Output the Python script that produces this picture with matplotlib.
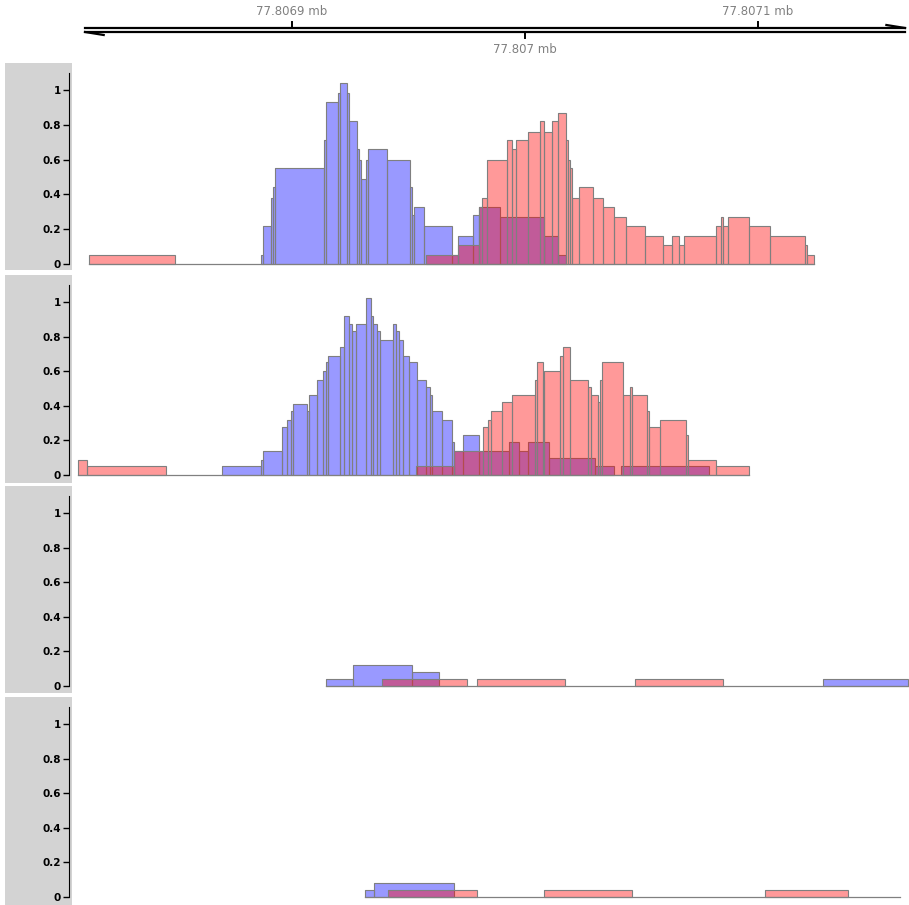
import matplotlib.pyplot as plt
import matplotlib.patches as mpatches

# positions are bp offsets from 77806800
ref_bp = 77806800
xlim = (5.6, 364.8)

# panel 1
p1_blue_edges = [86.6, 87.7, 90.9, 91.7, 92.7, 113.7, 114.6, 119.6, 120.6, 123.5, 124.6, 127.8, 128.6,
                 129.7, 131.6, 132.5, 140.6, 150.6, 151.6, 152.5, 156.7, 168.5, 171.4, 177.6, 180.4,
                 189.3, 208.2, 214.2, 217.6]
p1_blue_vals = [0.05, 0.22, 0.38, 0.44, 0.55, 0.71, 0.93, 0.98, 1.04, 0.98, 0.82, 0.66, 0.6, 0.49, 0.6,
                0.66, 0.6, 0.44, 0.28, 0.33, 0.22, 0.05, 0.16, 0.28, 0.33, 0.27, 0.16, 0.05]
p1_red_edges = [12.9, 49.8, 157.5, 171.4, 180.4, 181.4, 183.6, 192.4, 194.3, 196.3, 201.4, 206.3, 208.3,
                211.5, 214.3, 217.5, 218.3, 219.3, 220.2, 223.3, 229.3, 233.3, 238.3, 243.4, 251.4,
                259.4, 263.2, 266.2, 268.1, 282.1, 284.1, 285.1, 287.3, 296.1, 305.2, 320.2, 321.2, 324.1]
p1_red_vals = [0.05, 0, 0.05, 0.11, 0.33, 0.38, 0.6, 0.71, 0.66, 0.71, 0.76, 0.82, 0.76, 0.82, 0.87,
               0.71, 0.6, 0.55, 0.38, 0.44, 0.38, 0.33, 0.27, 0.22, 0.16, 0.11, 0.16, 0.11, 0.16, 0.22,
               0.27, 0.22, 0.27, 0.22, 0.16, 0.11, 0.05]

# panel 2
p2_blue_edges = [69.8, 86.6, 87.7, 95.6, 97.7, 99.4, 100.6, 106.6, 107.4, 110.6, 113.4, 114.6, 115.6,
                 120.6, 122.4, 124.6, 125.6, 127.5, 131.6, 133.8, 134.6, 136.6, 137.8, 143.5, 144.5,
                 145.9, 147.8, 150.3, 153.5, 157.5, 159.2, 160.2, 164.5, 168.5, 169.5, 173.5, 180.4,
                 193.3, 197.4, 201.3, 210.4, 230.2, 238.1, 241.3, 279.1]
p2_blue_vals = [0.05, 0.09, 0.14, 0.28, 0.32, 0.37, 0.41, 0.37, 0.46, 0.55, 0.6, 0.65, 0.69, 0.74, 0.92,
                0.87, 0.83, 0.87, 1.02, 0.92, 0.87, 0.83, 0.78, 0.87, 0.83, 0.78, 0.69, 0.65, 0.55, 0.51,
                0.46, 0.37, 0.32, 0.19, 0.14, 0.23, 0.14, 0.19, 0.14, 0.19, 0.10, 0.05, 0, 0.05]
p2_red_edges = [8.2, 12.0, 45.9, 153.1, 169.5, 182.1, 184.3, 185.3, 190.3, 194.3, 204.3, 205.3, 207.6,
                208.3, 215.2, 216.2, 219.3, 227.2, 228.2, 231.3, 232.2, 233.2, 242.2, 245.1, 246.1,
                252.2, 253.2, 257.9, 269.1, 270.1, 282.0, 296.2]
p2_red_vals = [0.09, 0.05, 0, 0.05, 0.14, 0.28, 0.32, 0.37, 0.42, 0.46, 0.55, 0.65, 0.55, 0.6, 0.69,
               0.74, 0.55, 0.51, 0.46, 0.42, 0.55, 0.65, 0.46, 0.51, 0.46, 0.37, 0.28, 0.32, 0.23,
               0.09, 0.05]

# panel 3
p3_blue_edges = [114.5, 126.3, 151.4, 163.2, 327.9, 364.4]
p3_blue_vals = [0.04, 0.12, 0.08, 0, 0.04]
p3_red_edges = [138.5, 175.2, 179.3, 217.3, 247.2, 285.1]
p3_red_vals = [0.04, 0, 0.04, 0, 0.04]

# panel 4
p4_blue_edges = [131.3, 135.3, 169.4]
p4_blue_vals = [0.04, 0.08]
p4_red_edges = [141.3, 179.4, 208.3, 246.1, 303.0, 338.8]
p4_red_vals = [0.04, 0, 0.04, 0, 0.04]

panels = [
    (p1_blue_edges, p1_blue_vals, p1_red_edges, p1_red_vals, (12.9, 324.1)),
    (p2_blue_edges, p2_blue_vals, p2_red_edges, p2_red_vals, (8.2, 296.2)),
    (p3_blue_edges, p3_blue_vals, p3_red_edges, p3_red_vals, (114.5, 364.4)),
    (p4_blue_edges, p4_blue_vals, p4_red_edges, p4_red_vals, (131.3, 361.0)),
]

axis_ticks = [77806900, 77807000, 77807100]
axis_labels = ['77.8069 mb', '77.807 mb', '77.8071 mb']

W, H = 909, 905
fig = plt.figure(figsize=(W / 100, H / 100), dpi=100)

def fx(px):
    return px / W

def fy(py):
    return 1 - py / H

# genome axis on top
gax = fig.add_axes([fx(72), fy(60), fx(909 - 72), 60 / H])
gax.set_xlim(*xlim)
gax.set_ylim(0, 60)
gax.axis('off')
g0, g1 = 11.2, 363.1
gax.plot([g0, g1], [32, 32], color='black', lw=1.6)
gax.plot([g0, g1], [28, 28], color='black', lw=1.6)
gax.plot([g1 - 8, g1], [35, 32], color='black', lw=1.6)
gax.plot([g0, g0 + 8], [28, 25], color='black', lw=1.6)
for i, (t, lab) in enumerate(zip(axis_ticks, axis_labels)):
    x = t - ref_bp
    if i == 1:
        gax.plot([x, x], [28, 22], color='black', lw=1.4)
        gax.text(x, 17, lab, ha='center', va='top', color='#808080', fontsize=8.5)
    else:
        gax.plot([x, x], [32, 38], color='black', lw=1.4)
        gax.text(x, 42, lab, ha='center', va='bottom', color='#808080', fontsize=8.5)

tops = [63, 275, 486, 697]
bots = [270, 481, 692, 903]
strip_bots = [270, 483, 693, 905]
edge = '#7f7f7f'

def draw_hist(ax, edges, vals, color):
    for i, v in enumerate(vals):
        if v <= 0:
            continue
        ax.add_patch(mpatches.Rectangle((edges[i], 0), edges[i + 1] - edges[i], v,
                                        facecolor=color, alpha=0.4, edgecolor='none'))
        ax.add_patch(mpatches.Rectangle((edges[i], 0), edges[i + 1] - edges[i], v,
                                        facecolor='none', edgecolor=edge, lw=0.8))

for (be, bv, re_, rv, base), t, b, sb in zip(panels, tops, bots, strip_bots):
    fig.patches.append(mpatches.Rectangle((fx(5), fy(sb)), fx(67), (sb - t) / H,
                                          transform=fig.transFigure, facecolor='#d3d3d3',
                                          edgecolor='none', zorder=-5))
    ax = fig.add_axes([fx(72), fy(b), fx(909 - 72), (b - t) / H])
    ax.patch.set_alpha(0)
    ax.set_xlim(*xlim)
    ax.set_ylim(-0.034, 1.155)
    ax.plot(base, [0, 0], color='#808080', lw=0.9)
    draw_hist(ax, be, bv, (0, 0, 1))
    draw_hist(ax, re_, rv, (1, 0, 0))
    for s in ['top', 'right', 'bottom']:
        ax.spines[s].set_visible(False)
    ax.spines['left'].set_position(('outward', 2))
    ax.spines['left'].set_bounds(0, 1.1)
    ax.set_xticks([])
    ax.set_yticks([0, 0.2, 0.4, 0.6, 0.8, 1])
    ax.set_yticklabels(['0', '0.2', '0.4', '0.6', '0.8', '1'], fontsize=7.5, fontweight='bold')
    ax.tick_params(axis='y', length=4, width=1, pad=2)

fig.savefig('out.png', dpi=100)
